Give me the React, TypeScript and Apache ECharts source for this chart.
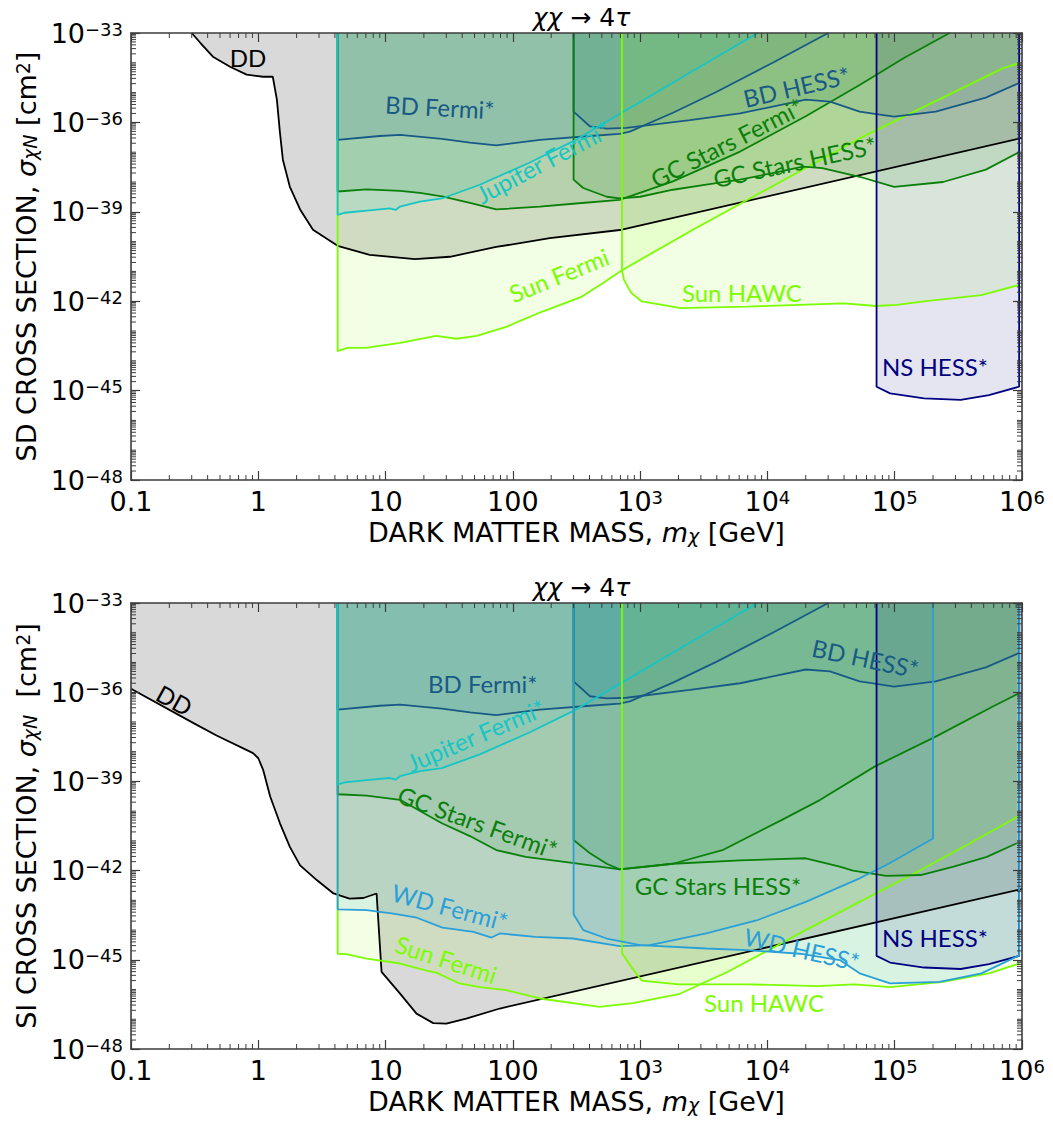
import React, { useEffect, useRef } from "react";
import * as echarts from "echarts";

type Pt = [number, number];

// ---------------- axes / ticks ----------------
const X_TICK_EXP = [-1, 0, 1, 2, 3, 4, 5, 6];
const X_TICK_TEXT = ["0.1", "1", "10", "100", "10^3", "10^4", "10^5", "10^6"];
const Y_TICK_EXP = [-48, -45, -42, -39, -36, -33];
const Y_TICK_TEXT = ["10^-48", "10^-45", "10^-42", "10^-39", "10^-36", "10^-33"];
const X_RANGE = [0.1, 1e6];
const Y_RANGE = [1e-48, 1e-33];

const PANEL_TITLE = ["χχ", " → 4", "τ"];
const X_TITLE = ["DARK MATTER MASS, ", "m", "χ", " [GeV]"];
const Y_TITLES = [
  ["SD CROSS SECTION, ", "σ", "χN", " [cm", "2", "]"],
  ["SI CROSS SECTION, ", "σ", "χN", "  [cm", "2", "]"],
];

// ---------------- colours ----------------
const C_DD = "#000000";
const C_BD = "#185a85";
const C_JUP = "#17c5c5";
const C_GC = "#0a800a";
const C_SUN = "#7cfc00";
const C_NS = "#000080";
const C_WD = "#2a9fd8";

// ---------------- data: [mass GeV, cross section cm^2] ----------------
// shared between SD and SI
const BD_FERMI: Pt[] = [[4.2, 1e-33], [4.2, 2.6e-37], [9.0, 3.5e-37], [13, 3.8e-37], [27.7, 2.8e-37], [46, 2.1e-37], [74, 1.7e-37], [163, 2.6e-37], [404, 3.5e-37], [690, 4.1e-37], [830, 4.9e-37], [1810, 2.1e-36], [4000, 1.07e-35], [1.1e4, 1.0e-34], [3.0e4, 1e-33]];
const BD_HESS: Pt[] = [[300, 1e-33], [300, 2.3e-36], [404, 7.3e-37], [546, 6.2e-37], [780, 6.5e-37], [2460, 1.2e-36], [6100, 2.0e-36], [1.1e4, 3.4e-36], [2.0e4, 5.8e-36], [3.1e4, 5.0e-36], [5.3e4, 2.3e-36], [7.2e4, 1.9e-36], [9.9e4, 1.55e-36], [2.1e5, 2.3e-36], [5.2e5, 6.8e-36], [9.5e5, 2.1e-35]];
const JUPITER: Pt[] = [[4.2, 1e-33], [4.2, 7.9e-40], [4.8, 9.3e-40], [7.1, 1.1e-39], [10.8, 1.3e-39], [12, 1.15e-39], [13, 1.5e-39], [18.6, 2.2e-39], [27.7, 2.8e-39], [55, 8.1e-39], [136, 4.5e-38], [313, 2.6e-37], [720, 2.1e-36], [2470, 4.7e-35], [8400, 1e-33]];
const NS_HESS: Pt[] = [[7.2e4, 1e-33], [7.2e4, 1.35e-45], [9.2e4, 8.1e-46], [1.7e5, 5.5e-46], [3.3e5, 4.9e-46], [5.5e5, 7.1e-46], [9.5e5, 1.35e-45], [9.5e5, 1e-33]];

// SD panel
const DD_SD: Pt[] = [[0.30, 1e-33], [0.35, 4.7e-34], [0.44, 1.6e-34], [0.60, 7.4e-35], [0.81, 4.0e-35], [1.09, 3.4e-35], [1.30, 3.4e-35], [1.40, 5.8e-36], [1.48, 4.5e-37], [1.56, 5.6e-38], [1.77, 6.9e-39], [2.13, 1.2e-39], [2.69, 2.5e-40], [4.2, 7.2e-41], [7.5, 3.6e-41], [17, 2.6e-41], [32, 3.1e-41], [74, 6.6e-41], [195, 1.3e-40], [720, 2.5e-40], [1e6, 3.0e-37]];
const SUN_FERMI_SD: Pt[] = [[4.2, 1e-33], [4.2, 2.1e-44], [5.0, 2.7e-44], [7.0, 2.7e-44], [13, 4.0e-44], [25, 6.9e-44], [36, 5.5e-44], [52, 6.9e-44], [90, 1.4e-43], [114, 2.2e-43], [171, 4.5e-43], [346, 1.4e-42], [508, 4.0e-42], [720, 1.1e-41], [2600, 2.5e-40], [5.3e4, 2.9e-37], [7.1e5, 6.6e-35], [9.5e5, 9.8e-35]];
const SUN_HAWC_SD: Pt[] = [[720, 1e-33], [720, 1.1e-41], [746, 5.2e-42], [850, 1.9e-42], [1030, 9.8e-43], [2080, 5.9e-43], [7000, 6.6e-43], [4.0e4, 8.5e-43], [7.1e4, 6.9e-43], [1.04e5, 7.5e-43], [1.7e5, 9.8e-43], [4.8e5, 1.6e-42], [9.5e5, 3.5e-42]];
const GC_FERMI_SD: Pt[] = [[4.2, 1e-33], [4.2, 4.8e-39], [7.1, 5.7e-39], [13, 5.0e-39], [18.6, 4.3e-39], [27.7, 3.3e-39], [46, 2.0e-39], [74, 1.2e-39], [163, 1.5e-39], [313, 1.9e-39], [690, 2.5e-39], [1810, 1.05e-38], [6100, 1.05e-37], [2.0e4, 1.6e-36], [5.3e4, 1.8e-35], [1.2e5, 1.5e-34], [2.7e5, 1e-33]];
const GC_HESS_SD: Pt[] = [[300, 1e-33], [300, 1.2e-38], [357, 6.3e-39], [546, 3.2e-39], [690, 2.8e-39], [1000, 3.2e-39], [1810, 5.5e-39], [3300, 8.1e-39], [6100, 1.2e-38], [1.1e4, 2.0e-38], [1.9e4, 3.3e-38], [2.7e4, 2.9e-38], [5.3e4, 1.5e-38], [9.9e4, 6.9e-39], [2.4e5, 1.0e-38], [5.2e5, 2.6e-38], [9.5e5, 1.0e-37]];

// SI panel
const DD_SI: Pt[] = [[0.1, 1.3e-36], [0.31, 9.1e-38], [0.47, 3.5e-38], [0.91, 8.9e-39], [1.0, 6.0e-39], [1.09, 2.5e-39], [1.24, 3.1e-40], [1.48, 3.9e-41], [1.77, 6.3e-42], [2.13, 1.5e-42], [2.88, 4.8e-43], [3.9, 1.7e-43], [5.2, 1.15e-43], [6.7, 1.2e-43], [8.5, 1.7e-43], [9.3, 3.9e-46], [13, 7.3e-47], [17.5, 1.55e-47], [23.7, 7.4e-48], [30, 7.1e-48], [43, 1.05e-47], [79, 2.3e-47], [1e6, 2.4e-43]];
const SUN_FERMI_SI: Pt[] = [[4.2, 1e-33], [4.2, 1.6e-45], [4.9, 1.55e-45], [7.1, 1.1e-45], [13, 7.5e-46], [21, 4.3e-46], [25, 3.7e-46], [38, 1.6e-46], [55, 1.2e-46], [89, 9.5e-47], [163, 5.0e-47], [480, 2.6e-47], [880, 3.5e-47], [2050, 7.2e-47], [4800, 3.8e-46], [1.1e4, 2.5e-45], [1.8e4, 7.9e-45], [5.3e4, 8.9e-44], [1.6e5, 1.05e-42], [3.9e5, 8.3e-42], [8.8e5, 5.8e-41], [9.5e5, 6.8e-41]];
const SUN_HAWC_SI: Pt[] = [[720, 1e-33], [720, 1.65e-45], [850, 5.8e-46], [1030, 2.0e-46], [2000, 1.5e-46], [7000, 1.5e-46], [2.5e4, 1.3e-46], [4.8e4, 1.5e-46], [9.2e4, 1.2e-46], [2.4e5, 1.8e-46], [5.5e5, 3.5e-46], [9.5e5, 7.4e-46]];
const GC_FERMI_SI: Pt[] = [[4.2, 1e-33], [4.2, 3.7e-40], [7.1, 3.3e-40], [13, 2.4e-40], [27.7, 3.9e-41], [46, 1.45e-41], [74, 4.9e-42], [126, 2.9e-42], [313, 1.75e-42], [690, 1.1e-42], [1810, 1.7e-42], [4500, 5.0e-42], [1.3e4, 5.1e-41], [2.6e4, 2.4e-40], [7.0e4, 3.2e-39], [2.1e5, 3.2e-38], [5.9e5, 3.3e-37], [9.5e5, 9.3e-37]];
const GC_HESS_SI: Pt[] = [[300, 1e-33], [300, 1.07e-41], [404, 3.8e-42], [546, 1.7e-42], [690, 1.1e-42], [1810, 1.7e-42], [6100, 2.2e-42], [2.0e4, 2.6e-42], [3.7e4, 1.35e-42], [4.7e4, 1.0e-42], [8.6e4, 6.6e-43], [1.6e5, 7.1e-43], [2.9e5, 1.35e-42], [5.3e5, 2.9e-42], [9.1e5, 8.3e-42]];
const WD_FERMI: Pt[] = [[4.2, 1e-33], [4.2, 5.0e-44], [7.1, 4.7e-44], [11.5, 3.6e-44], [17.6, 2.6e-44], [28, 1.2e-44], [49, 8.7e-45], [68, 5.6e-45], [79, 7.7e-45], [150, 5.9e-45], [297, 5.2e-45], [690, 2.9e-45], [1190, 3.1e-45], [3300, 7.8e-45], [8200, 2.1e-44], [2.0e4, 8.9e-44], [5.3e4, 5.5e-43], [8.6e4, 1.55e-42], [2.0e5, 1.2e-41], [2.0e5, 1e-33]];
const WD_HESS: Pt[] = [[300, 1e-33], [300, 3.4e-44], [357, 1.0e-44], [546, 5.2e-45], [1000, 3.1e-45], [3300, 2.4e-45], [6900, 2.1e-45], [1.8e4, 1.6e-45], [3.7e4, 9.8e-46], [5.3e4, 3.5e-46], [9.2e4, 1.6e-46], [2.25e5, 1.8e-46], [4.8e5, 3.5e-46], [9.5e5, 1.4e-45], [9.5e5, 1e-33]];

// ---------------- annotations: [text, mass, sigma, rotation deg, colour] ----------------
type Lbl = [string, number, number, number, string];
const LABELS_SD: Lbl[] = [
  ["DD", 0.83, 1.5e-34, 0, C_DD],
  ["BD Fermi*", 26.7, 3.3e-36, -3, C_BD],
  ["BD HESS*", 1.69e4, 1.6e-35, 13, C_BD],
  ["Jupiter Fermi*", 172, 4.8e-38, 28, C_JUP],
  ["GC Stars Fermi*", 4790, 2.1e-37, 27, C_GC],
  ["GC Stars HESS*", 1.64e4, 4.8e-38, 12, C_GC],
  ["Sun Fermi", 230, 7.6e-42, 22, C_SUN],
  ["Sun HAWC", 6300, 1.9e-42, 0, C_SUN],
  ["NS HESS*", 2.07e5, 6.2e-45, 0, C_NS],
];
const LABELS_SI: Lbl[] = [
  ["DD", 0.22, 5.5e-37, -29, C_DD],
  ["BD Fermi*", 58, 1.9e-36, 0, C_BD],
  ["BD HESS*", 5.9e4, 1.4e-35, -12, C_BD],
  ["Jupiter Fermi*", 51, 3.6e-38, 23, C_JUP],
  ["GC Stars Fermi*", 53, 4.3e-41, -20, C_GC],
  ["GC Stars HESS*", 4090, 3.2e-43, 0, C_GC],
  ["WD Fermi*", 32, 6.0e-44, -15, C_WD],
  ["Sun Fermi", 30, 1.05e-45, -18, C_SUN],
  ["WD HESS*", 1.87e4, 2.3e-45, -13, C_WD],
  ["Sun HAWC", 9400, 3.7e-47, 0, C_SUN],
  ["NS HESS*", 2.07e5, 5.8e-45, 0, C_NS],
];

// region lists (draw order), [points, colour, fill alpha]
type Region = [Pt[], string, number];
const REGIONS_SD: Region[] = [
  [DD_SD, C_DD, 0.15],
  [SUN_FERMI_SD, C_SUN, 0.1],
  [GC_FERMI_SD, C_GC, 0.12],
  [BD_FERMI, C_BD, 0.12],
  [BD_HESS, C_BD, 0.12],
  [GC_HESS_SD, C_GC, 0.12],
  [JUPITER, C_JUP, 0.12],
  [SUN_HAWC_SD, C_SUN, 0.1],
  [NS_HESS, C_NS, 0.1],
];
const REGIONS_SI: Region[] = [
  [DD_SI, C_DD, 0.15],
  [SUN_FERMI_SI, C_SUN, 0.1],
  [GC_FERMI_SI, C_GC, 0.12],
  [BD_FERMI, C_BD, 0.12],
  [BD_HESS, C_BD, 0.12],
  [GC_HESS_SI, C_GC, 0.12],
  [WD_FERMI, C_WD, 0.12],
  [JUPITER, C_JUP, 0.12],
  [SUN_HAWC_SI, C_SUN, 0.1],
  [NS_HESS, C_NS, 0.1],
  [WD_HESS, C_WD, 0.12],
];

const GRIDS = [
  { left: 131, top: 33, width: 891, height: 447 },
  { left: 131, top: 603, width: 891, height: 446 },
];

const AXIS_COLOR = "#3c3c3c";
const TICK_FONT = "DejaVu Sans";
const LBL_FONT = "Lato";

function rgba(hex: string, a: number) {
  const n = parseInt(hex.slice(1), 16);
  return `rgba(${(n >> 16) & 255},${(n >> 8) & 255},${n & 255},${a})`;
}
const L = (v: number) => Math.log10(v);

function tickRich(t: string) {
  const i = t.indexOf("^");
  if (i < 0) return `{b|${t}}`;
  return `{b|${t.slice(0, i)}}{s|${t.slice(i + 1).replace("-", "−")}}`;
}

const tickRichStyle = {
  b: { fontSize: 27, lineHeight: 26, fontFamily: TICK_FONT, color: "#000" },
  s: { fontSize: 18, lineHeight: 14, fontFamily: TICK_FONT, color: "#000", verticalAlign: "top" },
};

const nameRich = {
  t: { fontSize: 27, lineHeight: 26, fontFamily: TICK_FONT, color: "#000" },
  i: { fontSize: 27, lineHeight: 26, fontFamily: TICK_FONT, fontStyle: "italic", color: "#000" },
  sub: { fontSize: 19, lineHeight: 12, fontFamily: TICK_FONT, fontStyle: "italic", color: "#000", verticalAlign: "bottom" },
  sup: { fontSize: 19, lineHeight: 12, fontFamily: TICK_FONT, color: "#000", verticalAlign: "top" },
};

function buildOption() {
  const xAxis: any[] = [];
  const yAxis: any[] = [];
  const series: any[] = [];
  const titles: any[] = [];

  const xMinor: number[] = [];
  for (let n = -1; n <= 5; n++) for (let k = 2; k <= 9; k++) xMinor.push(n + L(k));
  const yMinor: number[] = [];
  for (let n = -48; n <= -34; n++)
    for (let k = 1; k <= 9; k++) {
      if (k === 1 && n % 3 === 0) continue;
      yMinor.push(n + L(k));
    }

  [REGIONS_SD, REGIONS_SI].forEach((regions, gi) => {
    const g = GRIDS[gi];
    const xName = `{t|${X_TITLE[0]}}{i|${X_TITLE[1]}}{sub|${X_TITLE[2]}}{t|${X_TITLE[3]}}`;
    const yt = Y_TITLES[gi];
    const yName = `{t|${yt[0]}}{i|${yt[1]}}{sub|${yt[2]}}{t|${yt[3]}}{sup|${yt[4]}}{t|${yt[5]}}`;
    const common = {
      gridIndex: gi,
      type: "value",
      splitLine: { show: false },
      axisLine: { show: true, onZero: false, lineStyle: { color: AXIS_COLOR, width: 1.6 } },
      axisTick: { show: true, inside: true, length: 9, lineStyle: { color: AXIS_COLOR, width: 1.2 } },
      z: 10,
    };
    xAxis.push({
      ...common,
      position: "bottom",
      min: L(X_RANGE[0]),
      max: L(X_RANGE[1]),
      interval: 1,
      axisLabel: {
        show: true,
        margin: 8,
        showMinLabel: true,
        showMaxLabel: true,
        formatter: (v: number) => {
          const idx = X_TICK_EXP.indexOf(Math.round(v));
          return idx >= 0 ? tickRich(X_TICK_TEXT[idx]) : "";
        },
        rich: tickRichStyle,
      },
      name: xName,
      nameLocation: "middle",
      nameGap: 39,
      nameTextStyle: { rich: nameRich },
    });
    xAxis.push({
      ...common,
      position: "top",
      min: L(X_RANGE[0]),
      max: L(X_RANGE[1]),
      interval: 1,
      axisLabel: { show: false },
    });
    yAxis.push({
      ...common,
      position: "left",
      min: L(Y_RANGE[0]),
      max: L(Y_RANGE[1]),
      interval: 3,
      axisLabel: {
        show: true,
        margin: 8,
        showMinLabel: true,
        showMaxLabel: true,
        formatter: (v: number) => {
          const idx = Y_TICK_EXP.indexOf(Math.round(v));
          return idx >= 0 ? tickRich(Y_TICK_TEXT[idx]) : "";
        },
        rich: tickRichStyle,
      },
      name: yName,
      nameLocation: "middle",
      nameRotate: 90,
      nameGap: 81,
      nameTextStyle: { rich: nameRich },
    });
    yAxis.push({
      ...common,
      position: "right",
      min: L(Y_RANGE[0]),
      max: L(Y_RANGE[1]),
      interval: 3,
      axisLabel: { show: false },
    });

    const xi = gi * 2;
    const yi = gi * 2;

    // fills
    regions.forEach(([pts, color, alpha]) => {
      series.push({
        type: "line",
        xAxisIndex: xi,
        yAxisIndex: yi,
        data: pts.map(([m, s]) => [L(m), L(s)]),
        showSymbol: false,
        symbol: "none",
        silent: true,
        lineStyle: { width: 0, opacity: 0 },
        areaStyle: { color: rgba(color, alpha), origin: "end", opacity: 1 },
        z: 2,
      });
    });
    // boundary lines
    regions.forEach(([pts, color]) => {
      series.push({
        type: "line",
        xAxisIndex: xi,
        yAxisIndex: yi,
        data: pts.map(([m, s]) => [L(m), L(s)]),
        showSymbol: false,
        symbol: "none",
        silent: true,
        lineStyle: { width: 1.8, color },
        z: 3,
      });
    });

    // annotations
    const labels = gi === 0 ? LABELS_SD : LABELS_SI;
    series.push({
      type: "custom",
      xAxisIndex: xi,
      yAxisIndex: yi,
      silent: true,
      z: 5,
      data: labels.map(([, m, s], i) => [L(m), L(s), i]),
      renderItem: (params: any, api: any) => {
        const lb = labels[params.dataIndex];
        const p = api.coord([api.value(0), api.value(1)]);
        return {
          type: "text",
          x: p[0],
          y: p[1],
          rotation: (lb[3] * Math.PI) / 180,
          style: {
            text: lb[0],
            fill: lb[4],
            font: `24px ${LBL_FONT}`,
            fontSize: 24,
            fontFamily: LBL_FONT,
            align: "center",
            verticalAlign: "middle",
            textAlign: "center",
            textVerticalAlign: "middle",
          },
        };
      },
    });

    // minor ticks (log spacing) on all four sides
    series.push({
      type: "custom",
      xAxisIndex: xi,
      yAxisIndex: yi,
      silent: true,
      clip: false,
      z: 11,
      data: [[0, -40]],
      renderItem: (params: any, api: any) => {
        const cs = params.coordSys;
        const top = cs.y, bottom = cs.y + cs.height, left = cs.x, right = cs.x + cs.width;
        const st = { stroke: AXIS_COLOR, lineWidth: 1 };
        const children: any[] = [];
        xMinor.forEach((v) => {
          const px = api.coord([v, -40])[0];
          children.push({ type: "line", shape: { x1: px, y1: bottom, x2: px, y2: bottom - 5 }, style: st });
          children.push({ type: "line", shape: { x1: px, y1: top, x2: px, y2: top + 5 }, style: st });
        });
        yMinor.forEach((v) => {
          const py = api.coord([0, v])[1];
          children.push({ type: "line", shape: { x1: left, y1: py, x2: left + 5, y2: py }, style: st });
          children.push({ type: "line", shape: { x1: right, y1: py, x2: right - 5, y2: py }, style: st });
        });
        return { type: "group", children };
      },
    });

    titles.push({
      text: `{i|${PANEL_TITLE[0]}}{n|${PANEL_TITLE[1]}}{i|${PANEL_TITLE[2]}}`,
      left: g.left + g.width / 2,
      top: g.top - 33,
      textAlign: "center",
      textStyle: {
        fontWeight: "normal",
        rich: {
          i: { fontSize: 25, fontFamily: "DejaVu Sans", fontStyle: "italic", fontWeight: "normal", color: "#000" },
          n: { fontSize: 25, fontFamily: "DejaVu Sans", fontWeight: "normal", color: "#000" },
        },
      },
    });
  });

  return {
    animation: false,
    backgroundColor: "#ffffff",
    title: titles,
    grid: GRIDS.map((g) => ({ ...g, containLabel: false })),
    xAxis,
    yAxis,
    series,
  };
}

export default function App() {
  const ref = useRef<HTMLDivElement>(null);
  useEffect(() => {
    if (!ref.current) return;
    const chart = echarts.init(ref.current, undefined, { renderer: "svg" });
    chart.setOption(buildOption() as any);
    return () => chart.dispose();
  }, []);
  return (
    <div
      ref={ref}
      style={{ position: "fixed", left: 0, top: 0, width: 1053, height: 1122, background: "#fff" }}
    />
  );
}
